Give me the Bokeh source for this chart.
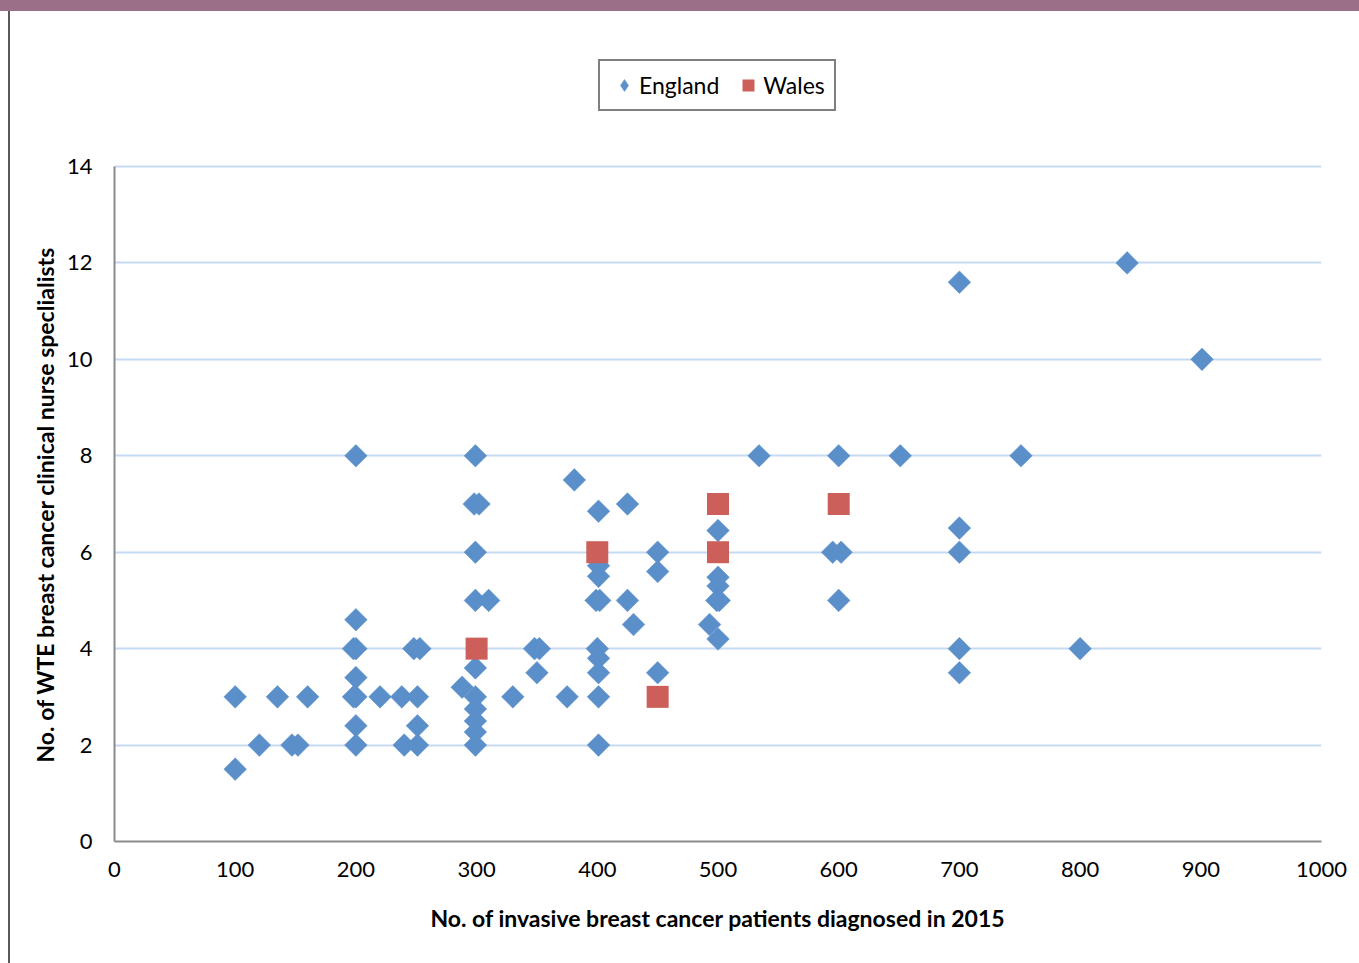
import numpy as np
from bokeh.plotting import figure
from bokeh.layouts import column, row
from bokeh.models import Legend, LegendItem, FixedTicker, Range1d, Div, Title
from bokeh.embed import file_html
from bokeh.resources import INLINE

# England
eng_x = [100, 100, 120, 135, 147, 152, 160,
         200, 200, 200, 198, 200, 200, 198, 200, 200,
         220, 238, 240, 248, 253, 251, 251, 251,
         288, 299, 298, 302, 299, 299, 310, 299, 299, 299, 299, 299, 299,
         330, 348, 352, 350, 375, 381,
         401, 401, 401, 399, 402, 400, 401, 401, 401, 401,
         425, 425, 430, 450, 450, 450,
         493, 500, 500, 500, 499, 501, 500,
         534, 600, 595, 602, 600, 651,
         700, 700, 700, 700, 700, 751, 800, 839, 901]
eng_y = [3, 1.5, 2, 3, 2, 2, 3,
         8, 4.6, 4, 4, 3.4, 3, 3, 2.4, 2,
         3, 3, 2, 4, 4, 3, 2.4, 2,
         3.2, 8, 7, 7, 6, 5, 5, 3.6, 3, 2.75, 2.5, 2.27, 2,
         3, 4, 4, 3.5, 3, 7.5,
         6.85, 5.72, 5.5, 5, 5, 4, 3.8, 3.5, 3, 2,
         7, 5, 4.5, 6, 5.6, 3.5,
         4.5, 6.45, 5.48, 5.3, 5, 5, 4.2,
         8, 8, 6, 6, 5, 8,
         11.6, 6.5, 6, 4, 3.5, 8, 4, 12, 10]

# Wales
wal_x = [300, 400, 450, 500, 500, 600]
wal_y = [4, 6, 3, 7, 6, 7]

x_ticks = [0, 100, 200, 300, 400, 500, 600, 700, 800, 900, 1000]
y_ticks = [0, 2, 4, 6, 8, 10, 12, 14]

x_title = "No. of invasive breast cancer patients diagnosed in 2015"
y_title = "No. of WTE breast cancer clinical nurse speclialists"

FONT = "Lato"
BLUE = "#5b8fca"
RED = "#cc5f59"

PAGE_W, PAGE_H = 1359, 963
BAND_H = 11
LINE_W = 10
W, H = PAGE_W - LINE_W, PAGE_H - BAND_H

LEFT, RIGHT, BOTTOM = 104, 38, 122
frame_h = H - BOTTOM
plot_top_px = 166 - BAND_H                      # where y=14 sits inside the figure
y_end = 14 * frame_h / (frame_h - plot_top_px)  # frame reaches to top (room for legend)

p = figure(width=W, height=H, output_backend="svg", toolbar_location=None,
           x_range=Range1d(0, 1000), y_range=Range1d(0, y_end),
           min_border_left=LEFT, min_border_right=RIGHT,
           min_border_top=0, min_border_bottom=BOTTOM)
p.outline_line_color = None
p.background_fill_color = "white"
p.border_fill_color = "white"

p.xgrid.grid_line_color = None
p.ygrid.grid_line_color = "#c6daf2"
p.ygrid.grid_line_width = 2
p.yaxis.ticker = FixedTicker(ticks=y_ticks)
p.xaxis.ticker = FixedTicker(ticks=x_ticks)
p.yaxis.bounds = (0, 14)

for ax in (p.xaxis, p.yaxis):
    ax.axis_line_color = "#8c8c8c"
    ax.axis_line_width = 2
    ax.major_tick_line_color = None
    ax.minor_tick_line_color = None
    ax.major_tick_out = 0
    ax.major_tick_in = 0
    ax.minor_tick_out = 0
    ax.major_label_text_font = FONT
    ax.major_label_text_font_size = "22px"
    ax.major_label_text_color = "#000000"
    ax.axis_label_text_font = FONT
    ax.axis_label_text_font_size = "23px"
    ax.axis_label_text_font_style = "bold"
    ax.axis_label_text_color = "#000000"

p.yaxis.major_label_standoff = 22
p.xaxis.major_label_standoff = 20
p.xaxis.axis_label_standoff = 24
p.xaxis.axis_label = x_title

# y title placed along the 0..14 part of the axis (frame extends higher for the legend)
p.add_layout(Title(text=y_title, align="left", offset=79,
                   text_font=FONT, text_font_size="23px", text_font_style="bold",
                   text_color="#000000", standoff=10), "left")

r_eng = p.scatter(eng_x, eng_y, marker="square", size=16, angle=np.pi / 4,
                  fill_color=BLUE, line_color=BLUE, line_width=0.5)
r_wal = p.scatter(wal_x, wal_y, marker="square", size=22,
                  fill_color=RED, line_color=RED, line_width=0)
# legend-only glyph (diamond shape, not drawn in the plot)
r_eng_leg = p.scatter(x=[np.nan], y=[np.nan], marker="diamond", size=16,
                      fill_color=BLUE, line_color=BLUE, line_width=0.5)

legend = Legend(items=[LegendItem(label="England", renderers=[r_eng_leg]),
                       LegendItem(label="Wales", renderers=[r_wal])],
                orientation="horizontal", location=(598 - 114, 841 - 111),
                border_line_color="black", border_line_width=2,
                label_text_font=FONT, label_text_font_size="23px",
                label_text_color="#000000",
                glyph_width=30, glyph_height=30, label_standoff=0,
                spacing=14, padding=9, margin=0,
                background_fill_alpha=1)
p.add_layout(legend, "center")

band = Div(width=PAGE_W, height=BAND_H, margin=0,
           styles={"background-color": "#9c6f88"})
edge = Div(width=LINE_W, height=H, margin=0,
           styles={"background": "linear-gradient(to right, #ffffff 0px, #ffffff 8px, #5a5a5a 8px, #5a5a5a 10px)"})

layout = column(band, row(edge, p, spacing=0), spacing=0)

open("out.html", "w").write(file_html(layout, INLINE))
